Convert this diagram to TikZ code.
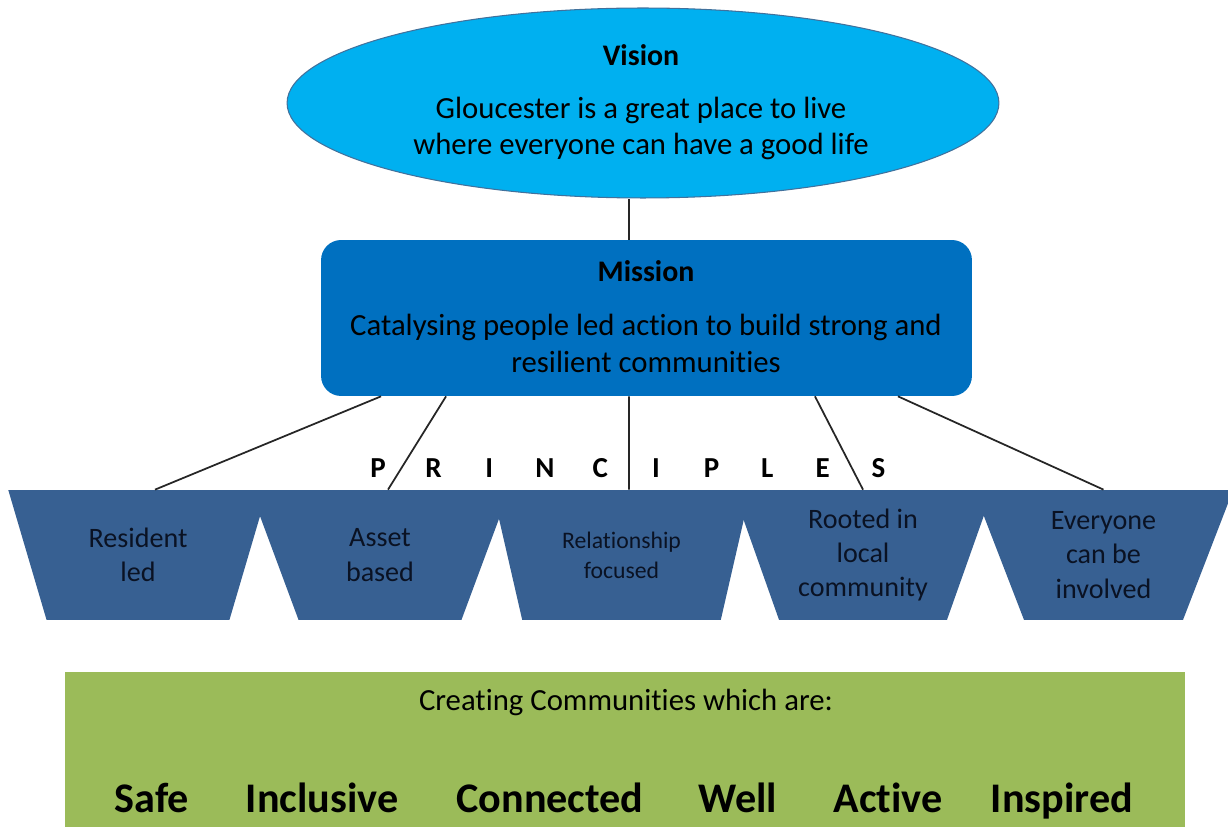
\documentclass[tikz,border=0pt]{standalone}
\usepackage{fontspec}
\setmainfont[Ligatures=NoCommon]{Carlito}
\usepackage{xcolor}
\usepackage{tikz}
\usetikzlibrary{shapes,arrows,positioning,calc}

\definecolor{visionblue}{RGB}{0,176,240}
\definecolor{visionedge}{RGB}{65,113,156}
\definecolor{missionblue}{RGB}{0,112,192}
\definecolor{principleblue}{RGB}{55,96,146}
\definecolor{outcomegreen}{RGB}{155,187,89}
\definecolor{darktext}{RGB}{10,18,35}

\tikzset{
  linkline/.style={line width=1pt, black!85},
  principle/.style={trapezium, shape border rotate=180, trapezium angle=69,
    trapezium stretches=true, minimum width=5.2cm, minimum height=2.6cm,
    inner sep=0pt, fill=principleblue, align=center, text=darktext},
  headtext/.style={font=\bfseries\fontsize{17}{21}\selectfont},
  bodytext/.style={align=center, font=\fontsize{17.5}{21}\selectfont},
}

\begin{document}
\begin{tikzpicture}[x=0.02cm, y=-0.02cm]
    \useasboundingbox (0,0) rectangle (1228,827);

    % Vision
    \node[ellipse, draw=visionedge, line width=0.6pt, fill=visionblue,
      minimum width=14.24cm, minimum height=3.8cm] (vision) at (643,103) {};
    \node[headtext] (visiontitle) at (641,55) {Vision};
    \node[bodytext] (visiontext) at (641,128.5)
      {Gloucester is a great place to live\\where everyone can have a good life};

    % Mission
    \node[rounded corners=0.4cm, fill=missionblue, minimum width=13.02cm,
      minimum height=3.12cm] (mission) at (646.5,318) {};
    \node[headtext] (missiontitle) at (646,271) {Mission};
    \node[bodytext] (missiontext) at (646,343.5)
      {Catalysing people led action to build strong and\\resilient communities};
    \draw[linkline] ([xshift=-0.35cm]mission.north) -- ([xshift=-0.35cm]mission.north |- vision.south);

    % Principles
    \foreach \txt/\xpos/\fs/\bs [count=\i] in {{Resident\\led}/138/16/19.5,
        {Asset\\based}/380/16/19.5, {Relationship\\focused}/621.5/13.5/17,
        {Rooted in\\local\\community}/863/16/19.5,
        {Everyone\\can be\\involved}/1103.5/16/19.5}
      \node[principle, font=\fontsize{\fs}{\bs}\selectfont] (t\i) at (\xpos,555) {\txt};

    \foreach \letter [count=\i] in {P,R,I,N,C,I,P,L,E,S}
      \node[font=\bfseries\fontsize{16.5}{19}\selectfont] (pr\i) at ({378+55.6*(\i-1)},468) {\letter};

    \foreach \i/\ms/\ts in {1/-5.31/0.34, 2/-4.01/0.16, 3/-0.35/0.15, 4/3.37/0, 5/5.03/0}
      \draw[linkline] ([xshift=\ms cm]mission.south) -- ([xshift=\ts cm]t\i.north);

    % Outcomes
    \node[fill=outcomegreen, minimum width=22.4cm, minimum height=3.2cm, inner sep=0pt]
      (outcome) at (625,752) {};
    \node[font=\fontsize{17.5}{21}\selectfont] (outcometitle) at (626,702)
      {Creating Communities which are:};
    \foreach \word/\xpos in {Safe/152, Inclusive/322, Connected/550, Well/738,
        Active/888, Inspired/1062}
      \node[anchor=base, font=\bfseries\fontsize{24}{28}\selectfont] (\word) at (\xpos,812) {\word};
\end{tikzpicture}
\end{document}
